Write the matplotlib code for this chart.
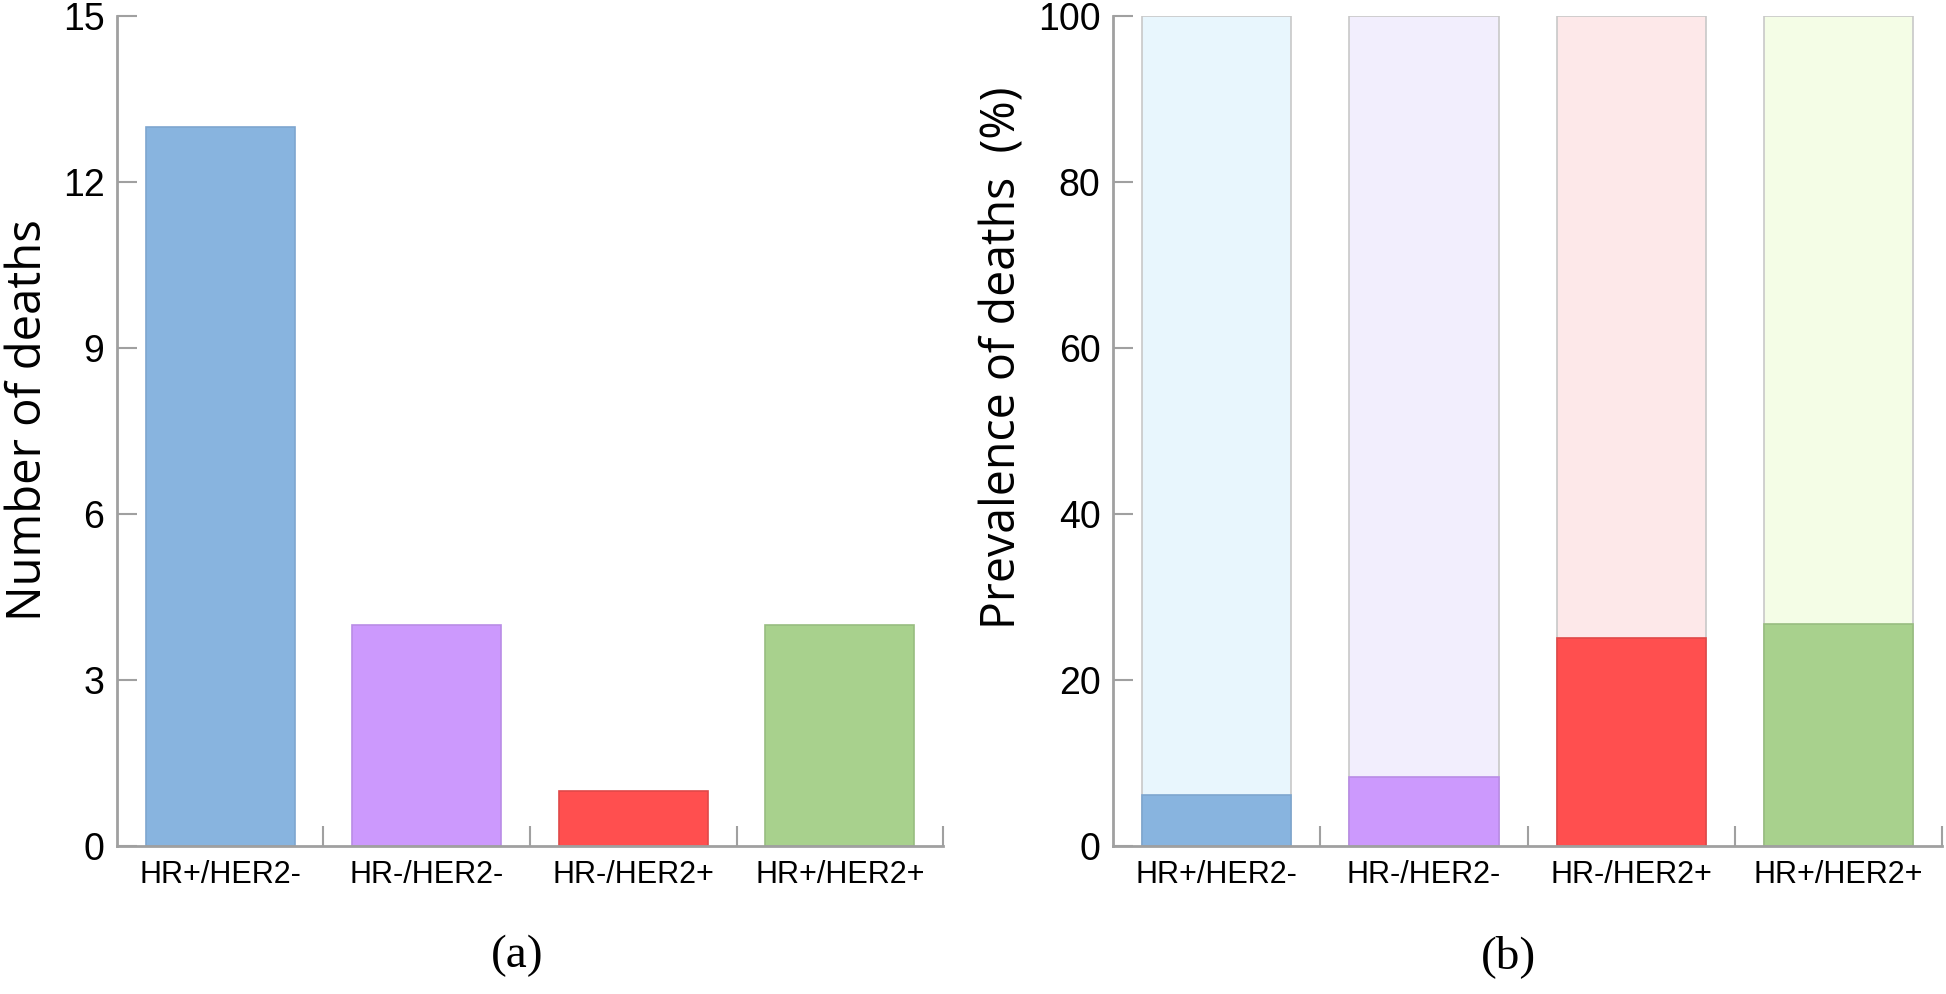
import matplotlib
matplotlib.use("Agg")
import matplotlib.pyplot as plt
import numpy as np

# data
groups = ["HR+/HER2-", "HR-/HER2-", "HR-/HER2+", "HR+/HER2+"]
deaths = [13, 4, 1, 4]
prevalence = [6.1, 8.3, 25.0, 26.7]
total_pct = [100, 100, 100, 100]

dark_colors = ["#88b4df", "#cc99fd", "#ff4f4f", "#a8d18d"]
light_colors = ["#e8f6fd", "#f2eefd", "#fde8e9", "#f4fde6"]
edge_colors = ["#7ea6cf", "#b98ce6", "#e04848", "#98bd80"]

tick_font = ["Liberation Sans Narrow", "Liberation Sans", "DejaVu Sans"]
label_font = ["Open Sans", "DejaVu Sans"]
axis_grey = "#a0a0a0"

fig = plt.figure(figsize=(19.46, 9.94), dpi=100)
ax1 = fig.add_axes([0.0601, 0.1489, 0.4245, 0.835])
ax2 = fig.add_axes([0.572, 0.1489, 0.426, 0.835])

x = np.arange(len(groups))


def style_axis(ax, ylim, yticks):
    ax.set_xlim(-0.5, 3.5)
    ax.set_ylim(*ylim)
    ax.set_yticks(yticks)
    ax.set_xticks(x)
    ax.set_xticklabels(groups, family=tick_font, fontsize=22)
    ax.set_xticks([0.5, 1.5, 2.5, 3.5], minor=True)
    for lab in ax.get_yticklabels():
        lab.set_family(tick_font)
        lab.set_fontsize(27)
    ax.tick_params(axis="x", which="major", length=0, pad=10)
    ax.tick_params(axis="x", which="minor", direction="in", length=14.5,
                   width=1.5, color=axis_grey)
    ax.tick_params(axis="y", direction="in", length=14.5, width=1.5,
                   color=axis_grey, pad=9)
    for s in ["top", "right"]:
        ax.spines[s].set_visible(False)
    for s in ["left", "bottom"]:
        ax.spines[s].set_color(axis_grey)
        ax.spines[s].set_linewidth(2)


# (a) number of deaths
ax1.bar(x, deaths, width=0.72, color=dark_colors, edgecolor=edge_colors,
        linewidth=1.2, zorder=2)
style_axis(ax1, (0, 15), [0, 3, 6, 9, 12, 15])
ax1.set_ylabel("Number of deaths", family=label_font, fontsize=34)
ax1.yaxis.set_label_coords(-0.079, 0.513)

# (b) prevalence of deaths
ax2.bar(x, total_pct, width=0.72, color=light_colors, edgecolor="#c8c8c8",
        linewidth=1.2, zorder=1)
ax2.bar(x, prevalence, width=0.72, color=dark_colors, edgecolor=edge_colors,
        linewidth=1.2, zorder=2)
style_axis(ax2, (0, 100), [0, 20, 40, 60, 80, 100])
ax2.set_ylabel("Prevalence of deaths  (%)", family=label_font, fontsize=33.5)
ax2.yaxis.set_label_coords(-0.104, 0.588)

fig.text(0.266, 0.038, "(a)", family=["Liberation Serif", "DejaVu Serif"],
         fontsize=34, ha="center", va="center")
fig.text(0.775, 0.038, "(b)", family=["Liberation Serif", "DejaVu Serif"],
         fontsize=34, ha="center", va="center")

fig.savefig("out.png", dpi=100)
